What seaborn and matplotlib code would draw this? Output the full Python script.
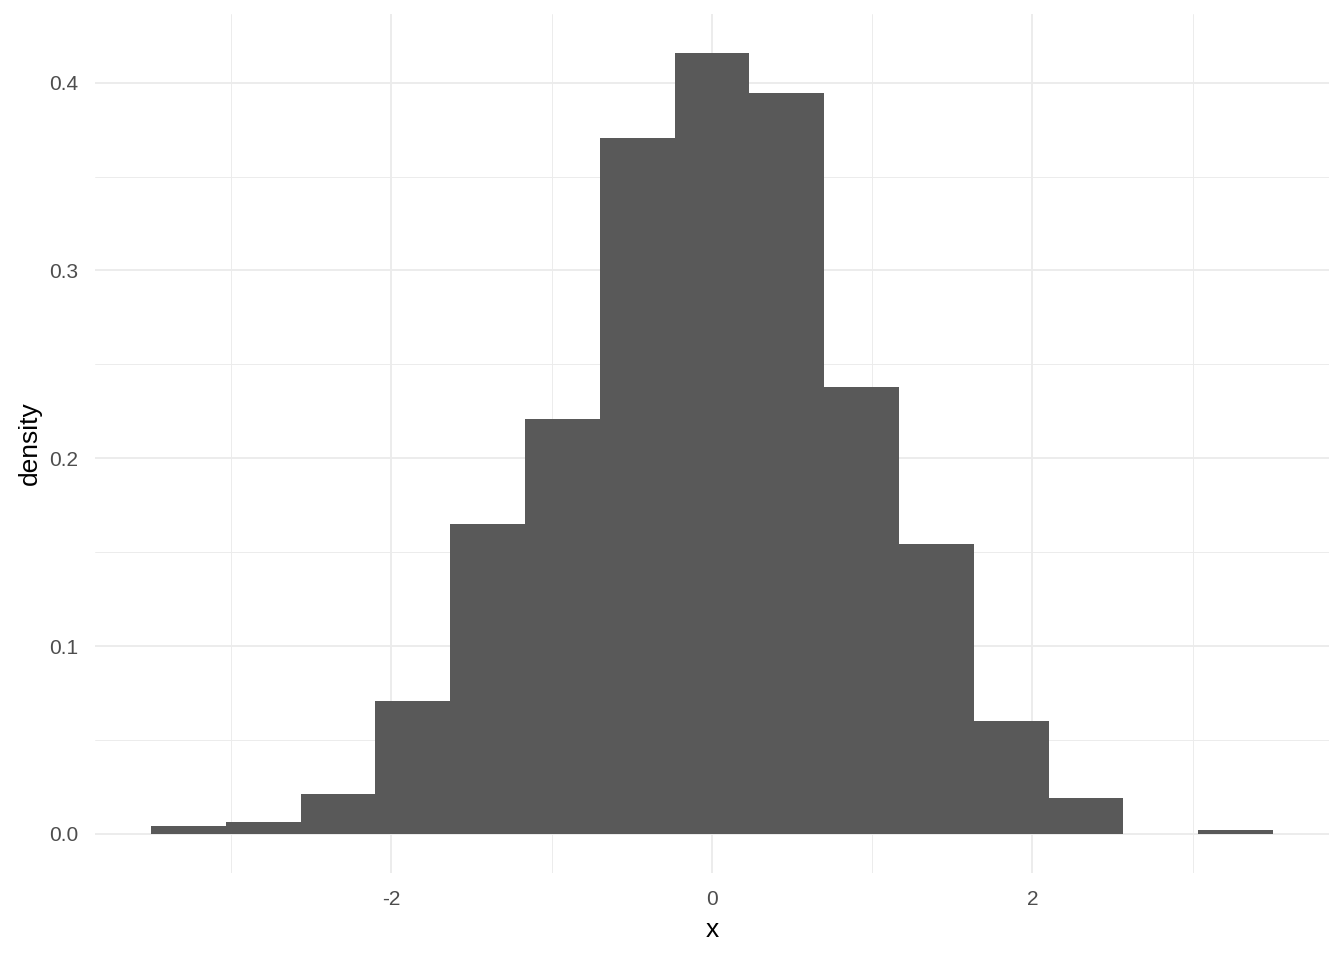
import numpy as np
import pandas as pd
import matplotlib
matplotlib.use("Agg")
import matplotlib.pyplot as plt
import seaborn as sns

# histogram bins (15 bins from -3.5 to 3.5) and densities
n_bins = 15
x_range = (-3.5, 3.5)
densities = [0.0043, 0.0064, 0.0214, 0.0707, 0.1650, 0.2207, 0.3707, 0.4157,
             0.3943, 0.2379, 0.1543, 0.0600, 0.0193, 0.0, 0.0021]
x_ticks = [-2, 0, 2]
y_ticks = [0.0, 0.1, 0.2, 0.3, 0.4]

width = (x_range[1] - x_range[0]) / n_bins
df = pd.DataFrame({
    "x": [x_range[0] + width * (i + 0.5) for i in range(n_bins)],
    "density": densities,
})

sns.set_theme(style="white")
plt.rcParams["font.family"] = ["Liberation Sans", "DejaVu Sans"]

fig = plt.figure(figsize=(13.44, 9.6), dpi=100)
ax = fig.add_axes([0.0707, 0.0906, 0.9181, 0.8948])

sns.histplot(data=df, x="x", weights="density", bins=n_bins, binrange=x_range,
             stat="count", color="#595959", alpha=1, edgecolor="none",
             linewidth=0, ax=ax)

ax.set_xlim(-3.85, 3.85)
ax.set_ylim(-0.0208, 0.4365)
ax.set_xticks(x_ticks)
ax.set_xticklabels(["-2", "0", "2"])
ax.set_yticks(y_ticks)
ax.set_yticklabels([f"{v:.1f}" for v in y_ticks])
ax.set_xticks([-3, -1, 1, 3], minor=True)
ax.set_yticks([0.05, 0.15, 0.25, 0.35], minor=True)

ax.grid(which="major", color="#EBEBEB", linewidth=1.3)
ax.grid(which="minor", color="#EBEBEB", linewidth=0.65)
ax.set_axisbelow(True)
for s in ax.spines.values():
    s.set_visible(False)

ax.tick_params(axis="both", which="both", length=0, labelsize=15,
               labelcolor="#4D4D4D")
ax.tick_params(axis="x", pad=12)
ax.tick_params(axis="y", pad=12)
ax.set_xlabel("x", fontsize=19, color="black", labelpad=7)
ax.set_ylabel("density", fontsize=19, color="black", labelpad=5)

fig.savefig("out.png", dpi=100, facecolor="white")
